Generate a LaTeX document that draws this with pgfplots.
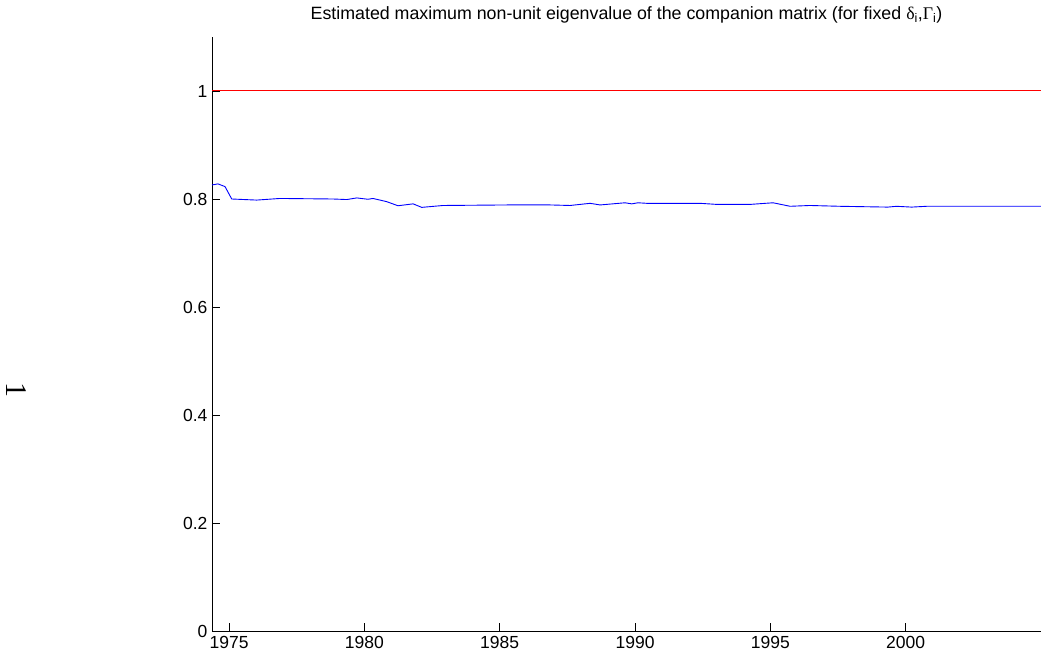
\documentclass[border=0pt]{standalone}
\usepackage{fontspec}
\setmainfont{Liberation Sans}
\newfontfamily\serifone{Liberation Serif}
\usepackage{pgfplots}
\pgfplotsset{compat=1.18}
\definecolor{mred}{rgb}{1,0,0}
\definecolor{mblue}{rgb}{0,0,1}
\begin{document}
\begin{tikzpicture}[x=1pt,y=1pt]
\begin{axis}[
  at={(0,0)}, anchor=south west,
  scale only axis, width=829pt, height=594pt,
  xmin=1974.37, xmax=2005.0, ymin=0, ymax=1.1,
  axis x line*=bottom, axis y line*=left,
  axis line style={black, line width=0.8pt, -},
  xtick={1975,1980,...,2000}, ytick={0,0.2,...,1},
  yticklabels={0,0.2,0.4,0.6,0.8,1},
  xticklabels={1975,1980,1985,1990,1995,2000},
  tick align=inside, major tick length=8pt,
  tick style={black, line width=0.6pt},
  ticklabel style={font=\fontsize{17.5}{20}\selectfont},
  xticklabel style={yshift=-2pt},
  yticklabel style={xshift=-1pt},
  title={Estimated maximum non-unit eigenvalue of the companion matrix (for fixed {\serifone δ}\textsubscript{i},{\serifone Γ}\textsubscript{i})},
  title style={font=\fontsize{17.8}{20}\selectfont, at={(rel axis cs:0.5,1)}, anchor=south, yshift=4pt},
  clip=false,
]
\addplot[mred, line width=1pt] coordinates {(1974.37,1) (2005.0,1)};
\addplot[mblue, line width=0.9pt] coordinates {
(1974.37,0.826) (1974.59,0.828) (1974.85,0.823) (1975.10,0.800) (1976.02,0.798)
(1976.88,0.801) (1978.84,0.800) (1979.35,0.799) (1979.72,0.802) (1980.13,0.7995)
(1980.32,0.801) (1980.83,0.795) (1981.24,0.7875) (1981.80,0.791) (1982.12,0.7845)
(1982.91,0.788) (1985.31,0.789) (1986.86,0.789) (1987.60,0.788) (1988.34,0.792)
(1988.71,0.789) (1989.63,0.793) (1989.88,0.791) (1990.11,0.793) (1990.43,0.792)
(1992.40,0.792) (1993.02,0.790) (1994.25,0.790) (1995.10,0.793) (1995.73,0.7865)
(1996.46,0.788) (1997.57,0.7865) (1999.34,0.785) (1999.66,0.7865) (2000.22,0.785)
(2000.77,0.7865) (2005.0,0.7865)
};
\end{axis}
\node[rotate=-90, font=\serifone\fontsize{30}{30}\selectfont, inner sep=0pt] at (-196,241) {1};
\pgfresetboundingbox
\useasboundingbox (-212,-26) rectangle (829,631);
\end{tikzpicture}
\end{document}
